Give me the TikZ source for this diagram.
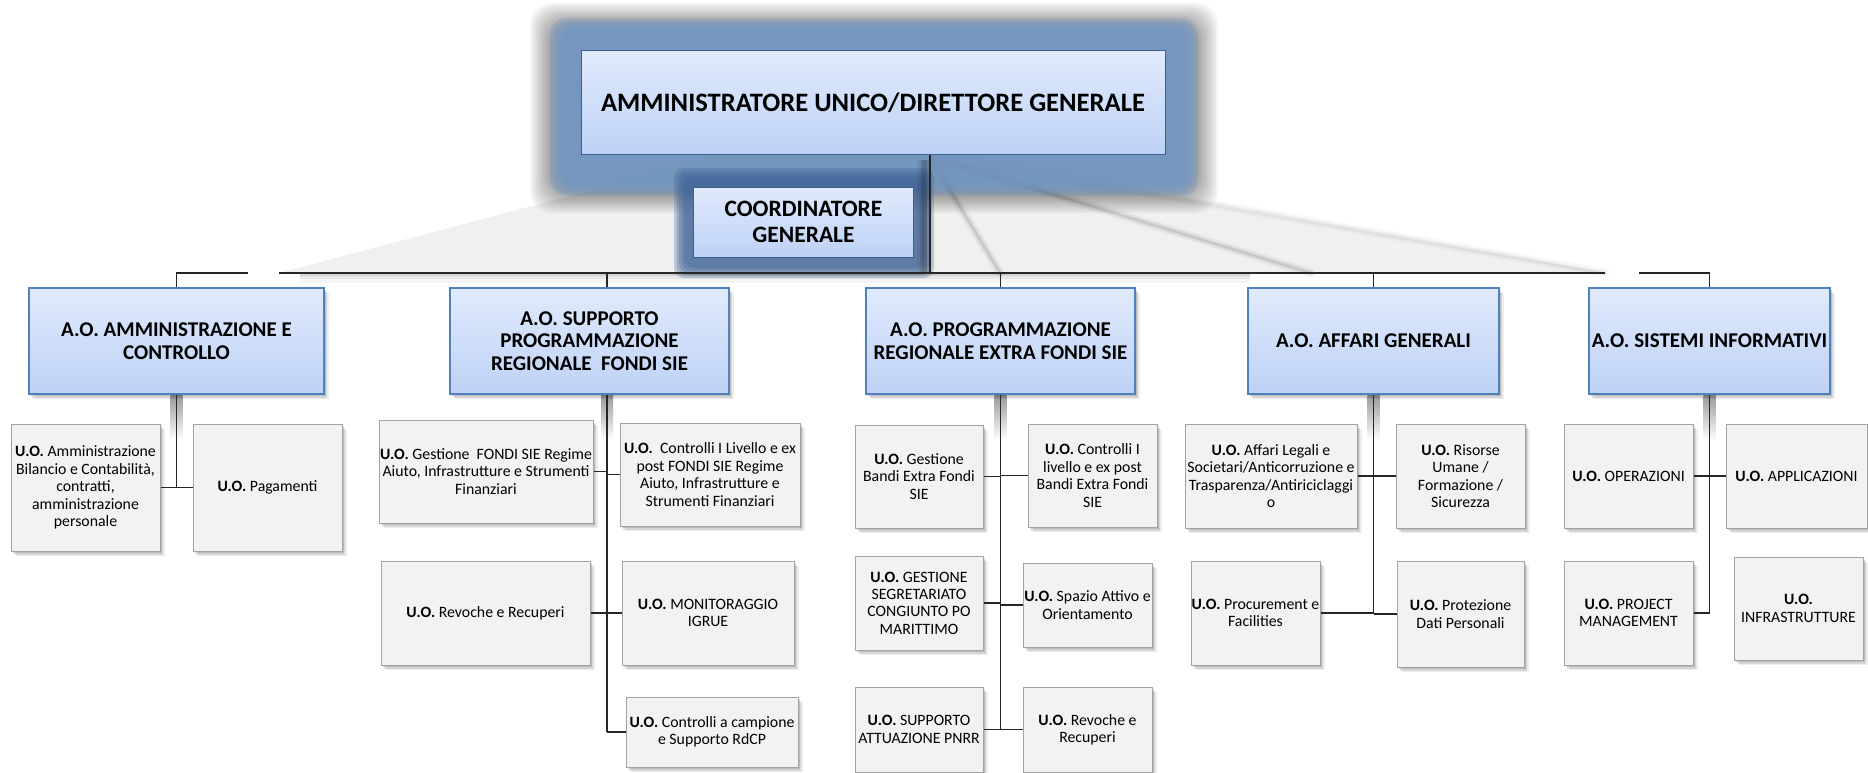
\documentclass[tikz,border=0pt]{standalone}
\usepackage{fontspec}
\setmainfont{Carlito}
\usetikzlibrary{shadows}
\definecolor{aoborder}{HTML}{4F81BD}
\definecolor{bluetop}{HTML}{E0EAFC}
\definecolor{bluebot}{HTML}{BED2F6}
\definecolor{uofill}{HTML}{F2F2F2}
\definecolor{uoborder}{HTML}{A3A3A3}
\definecolor{glowblue}{HTML}{7196C4}
\definecolor{coordblue}{HTML}{3E6396}
\definecolor{wedgegray}{HTML}{F0F0F0}
\definecolor{topborder}{HTML}{3D5F8C}
\newcommand\UOb{\textbf{U.O.}}
\tikzset{
  softshadow/.style={
    general shadow={shadow xshift=1.5pt,shadow yshift=-2pt,fill=black,opacity=.12},
    general shadow={shadow xshift=3pt,shadow yshift=-3.5pt,fill=black,opacity=.10},
    general shadow={shadow xshift=4.5pt,shadow yshift=-5pt,fill=black,opacity=.07}},
  uobox/.style={draw=uoborder,line width=1pt,fill=uofill,softshadow,inner sep=0pt,align=center,font=\fontsize{15.8}{17.4}\selectfont},
  aobox/.style={draw=aoborder,line width=2pt,top color=bluetop,bottom color=bluebot,softshadow,inner sep=0pt,align=center,minimum height=106pt,font=\fontsize{21}{22.6}\bfseries\selectfont},
  headbox/.style={draw=topborder,line width=1pt,top color=bluetop,bottom color=bluebot,inner sep=1pt,align=center},
  link/.style={draw=black!85,line width=1.2pt},
  streak/.style={draw=black,line cap=round},
}
\begin{document}
\begin{tikzpicture}[x=1pt,y=-1pt]
\useasboundingbox (0,0) rectangle (1868,773);

% reflection wedges
\fill[wedgegray] (717,157) -- (279,273) -- (930,273) -- (930,157) -- cycle;
\fill[wedgegray] (930,157) -- (1605,273) -- (930,273) -- cycle;
\foreach \w/\o in {9/.04,5/.06,2/.08}{
  \draw[streak,line width=\w pt,opacity=\o] (930,157) -- (1000,273);
  \draw[streak,line width=\w pt,opacity=\o] (930,157) -- (1311,273);
  \draw[streak,line width=\w pt,opacity=.6*\o] (960,160) -- (1605,273);
}

% glow of the top box
\foreach \i in {0,...,9}{
  \fill[black,opacity=0.045,rounded corners=22pt] (530+\i*2.2,3+\i*2.2) rectangle (1218-\i*2.2,213-\i*2.2);
}
\foreach \i in {0,...,5}{
  \fill[glowblue,opacity=0.3,rounded corners=16pt] (550+\i*2.5,18+\i*2.5) rectangle (1198-\i*2.5,196-\i*2.5);
}
% glow of the coordinator
\foreach \i in {0,...,4}{
  \fill[coordblue,opacity=0.28,rounded corners=10pt] (674+\i*2.5,168+\i*2.5) rectangle (934-\i*2.5,278-\i*2.5);
}
\foreach \w/\o in {14/.06,9/.08,5/.12}{
  \draw[black,line width=\w pt,opacity=\o] (924,160) -- (924,272);
}
% shadow of the bus
\foreach \h/\o in {10/.04,6/.06,3/.09}{
  \fill[black,opacity=\o] (300,273) rectangle (1250,273+\h);
}

% trunk shading
\foreach \x in {176.5,607,1000.5,1373.5,1709.5}{
  \shade[top color=black!40,bottom color=white] (\x-6,395) rectangle (\x+6,440);
}

% head boxes
\node[headbox,minimum width=584pt,minimum height=103pt,font=\fontsize{26.6}{31}\bfseries\selectfont] (top) at (873,102.5) {AMMINISTRATORE UNICO/DIRETTORE GENERALE};
\node[headbox,minimum width=220pt,minimum height=70pt,font=\fontsize{23.5}{25.5}\bfseries\selectfont] (coord) at (803.5,222) {COORDINATORE\\GENERALE};

% A.O. boxes
\node[aobox,minimum width=295pt] (ao1) at (176.5,341) {A.O. AMMINISTRAZIONE E\\CONTROLLO};
\node[aobox,minimum width=279pt] (ao2) at (589.5,341) {A.O. SUPPORTO\\PROGRAMMAZIONE\\REGIONALE\ \ FONDI SIE};
\node[aobox,minimum width=269pt] (ao3) at (1000.5,341) {A.O. PROGRAMMAZIONE\\REGIONALE EXTRA FONDI SIE};
\node[aobox,minimum width=251pt] (ao4) at (1373.5,341) {A.O. AFFARI GENERALI};
\node[aobox,minimum width=241pt] (ao5) at (1709.5,341) {A.O. SISTEMI INFORMATIVI};

% U.O. boxes
\node[uobox,minimum width=149pt,minimum height=127pt] (c11) at (85.5,487.5) {\UOb{} Amministrazione\\Bilancio e Contabilità,\\contratti,\\amministrazione\\personale};
\node[uobox,minimum width=149pt,minimum height=127pt] (c12) at (267.5,487.5) {\UOb{} Pagamenti};

\node[uobox,minimum width=214pt,minimum height=103pt] (c21) at (486,471.5) {\UOb{} Gestione\ \ FONDI SIE Regime\\Aiuto, Infrastrutture e Strumenti\\Finanziari};
\node[uobox,minimum width=180pt,minimum height=103pt] (c22) at (710,474.5) {\UOb{}\ \ Controlli I Livello e ex\\post FONDI SIE Regime\\Aiuto, Infrastrutture e\\Strumenti Finanziari};
\node[uobox,minimum width=209pt,minimum height=104pt] (c23) at (485.5,613) {\UOb{} Revoche e Recuperi};
\node[uobox,minimum width=172pt,minimum height=104pt] (c24) at (708,613) {\UOb{} MONITORAGGIO\\IGRUE};
\node[uobox,minimum width=172pt,minimum height=70pt] (c25) at (712,732) {\UOb{} Controlli a campione\\e Supporto RdCP};

\node[uobox,minimum width=128pt,minimum height=103pt] (c31) at (919,476.5) {\UOb{} Gestione\\Bandi Extra Fondi\\SIE};
\node[uobox,minimum width=129pt,minimum height=103pt] (c32) at (1092.5,475.5) {\UOb{} Controlli I\\livello e ex post\\Bandi Extra Fondi\\SIE};
\node[uobox,minimum width=128pt,minimum height=94pt] (c33) at (919,603) {\UOb{} GESTIONE\\SEGRETARIATO\\CONGIUNTO PO\\MARITTIMO};
\node[uobox,minimum width=129pt,minimum height=84pt] (c34) at (1087.5,605) {\UOb{} Spazio Attivo e\\Orientamento};
\node[uobox,minimum width=128pt,minimum height=85pt] (c35) at (919,729.5) {\UOb{} SUPPORTO\\ATTUAZIONE PNRR};
\node[uobox,minimum width=129pt,minimum height=85pt] (c36) at (1087.5,729.5) {\UOb{} Revoche e\\Recuperi};

\node[uobox,minimum width=172pt,minimum height=104pt] (c41) at (1271,476) {\UOb{} Affari Legali e\\Societari/Anticorruzione e\\Trasparenza/Antiriciclaggi\\o};
\node[uobox,minimum width=129pt,minimum height=104pt] (c42) at (1460.5,476) {\UOb{} Risorse\\Umane /\\Formazione /\\Sicurezza};
\node[uobox,minimum width=129pt,minimum height=104pt] (c43) at (1255.5,613) {\UOb{} Procurement e\\Facilities};
\node[uobox,minimum width=127pt,minimum height=106pt] (c44) at (1460.5,614) {\UOb{} Protezione\\Dati Personali};

\node[uobox,minimum width=129pt,minimum height=104pt] (c51) at (1628.5,476) {\UOb{} OPERAZIONI};
\node[uobox,minimum width=141pt,minimum height=104pt] (c52) at (1796.5,476) {\UOb{} APPLICAZIONI};
\node[uobox,minimum width=129pt,minimum height=104pt] (c53) at (1628.5,613) {\UOb{} PROJECT\\MANAGEMENT};
\node[uobox,minimum width=129pt,minimum height=103pt] (c54) at (1798.5,608.5) {\UOb{}\\INFRASTRUTTURE};

% connectors
\coordinate (bus) at (930,273);
\coordinate (t2) at (607,0);
\coordinate (gapLa) at (248,273);
\coordinate (gapLb) at (279,273);
\coordinate (gapRa) at (1605,273);
\coordinate (gapRb) at (1639,273);
\draw[link] (top.south -| bus) -- (bus);
\draw[link] (ao1.north) -- (ao1.north |- bus) -- (gapLa);
\draw[link] (gapLb) -- (gapRa);
\draw[link] (gapRb) -- (ao5.north |- bus) -- (ao5.north);
\draw[link] (ao2.north -| t2) -- (bus -| t2);
\draw[link] (ao3.north) -- (ao3.north |- bus);
\draw[link] (ao4.north) -- (ao4.north |- bus);

\draw[link] (ao1.south) -- (ao1.south |- c11.east);
\draw[link] (c11.east) -- (c12.west);

\draw[link] (ao2.south -| t2) -- (c25.west -| t2);
\draw[link] (c21.east) -- (c21.east -| t2);
\draw[link] (c22.west) -- (c22.west -| t2);
\draw[link] (c23.east) -- (c23.east -| t2);
\draw[link] (c24.west) -- (c24.west -| t2);
\draw[link] (c25.west) -- (c25.west -| t2);

\draw[link] (ao3.south) -- (ao3.south |- c35.east);
\draw[link] (c31.east) -- (c31.east -| ao3.south);
\draw[link] (c32.west) -- (c32.west -| ao3.south);
\draw[link] (c33.east) -- (c33.east -| ao3.south);
\draw[link] (c34.west) -- (c34.west -| ao3.south);
\draw[link] (c35.east) -- (c35.east -| ao3.south);
\draw[link] (c36.west) -- (c36.west -| ao3.south);

\draw[link] (ao4.south) -- (ao4.south |- c43.east);
\draw[link] (c41.east) -- (c41.east -| ao4.south);
\draw[link] (c42.west) -- (c42.west -| ao4.south);
\draw[link] (c43.east) -- (c43.east -| ao4.south);
\draw[link] (c44.west) -- (c44.west -| ao4.south);

\draw[link] (ao5.south) -- (ao5.south |- c53.east);
\draw[link] (c51.east) -- (c51.east -| ao5.south);
\draw[link] (c52.west) -- (c52.west -| ao5.south);
\draw[link] (c53.east) -- (c53.east -| ao5.south);
\end{tikzpicture}
\end{document}
